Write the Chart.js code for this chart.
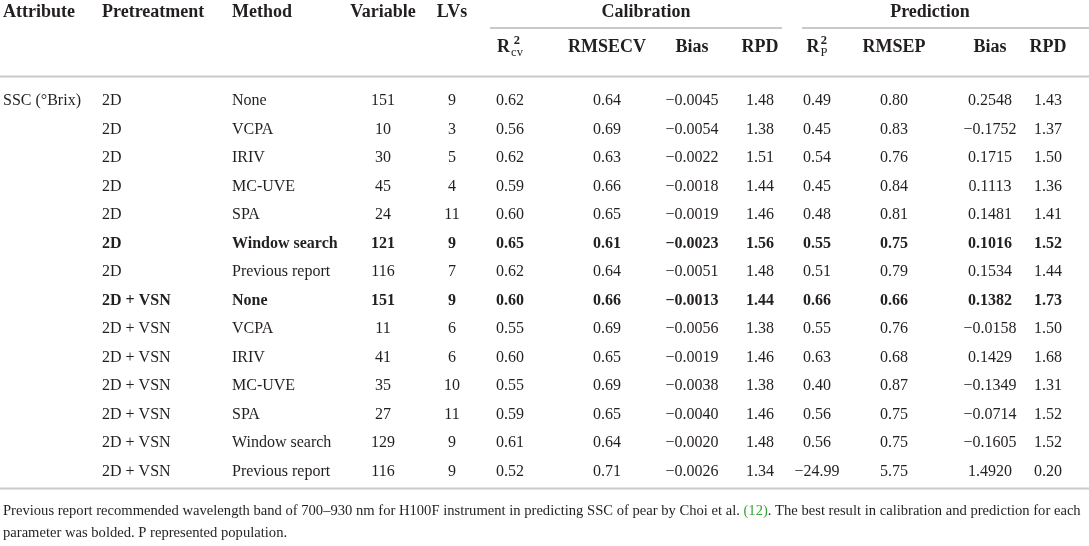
<!DOCTYPE html>
<html>
<head>
<meta charset="utf-8">
<script src="https://cdn.jsdelivr.net/npm/chart.js@4.4.1/dist/chart.umd.min.js"></script>
<style>
  html, body { margin: 0; padding: 0; background: #fff; }
  canvas { display: block; }
</style>
</head>
<body>
<canvas id="ResultTableChart" width="1089" height="546"></canvas>
<script>
// table values, one array per column
const attributes = ['SSC (°Brix)', '', '', '', '', '', '', '', '', '', '', '', '', ''];
const pretreatments = ['2D', '2D', '2D', '2D', '2D', '2D', '2D',
  '2D + VSN', '2D + VSN', '2D + VSN', '2D + VSN', '2D + VSN', '2D + VSN', '2D + VSN'];
const methods = ['None', 'VCPA', 'IRIV', 'MC-UVE', 'SPA', 'Window search', 'Previous report',
  'None', 'VCPA', 'IRIV', 'MC-UVE', 'SPA', 'Window search', 'Previous report'];
const variables = [151, 10, 30, 45, 24, 121, 116, 151, 11, 41, 35, 27, 129, 116];
const lvs = [9, 3, 5, 4, 11, 9, 7, 9, 6, 6, 10, 11, 9, 9];
const r2cv = [0.62, 0.56, 0.62, 0.59, 0.60, 0.65, 0.62, 0.60, 0.55, 0.60, 0.55, 0.59, 0.61, 0.52];
const rmsecv = [0.64, 0.69, 0.63, 0.66, 0.65, 0.61, 0.64, 0.66, 0.69, 0.65, 0.69, 0.65, 0.64, 0.71];
const biasCal = [-0.0045, -0.0054, -0.0022, -0.0018, -0.0019, -0.0023, -0.0051,
  -0.0013, -0.0056, -0.0019, -0.0038, -0.0040, -0.0020, -0.0026];
const rpdCal = [1.48, 1.38, 1.51, 1.44, 1.46, 1.56, 1.48, 1.44, 1.38, 1.46, 1.38, 1.46, 1.48, 1.34];
const r2p = [0.49, 0.45, 0.54, 0.45, 0.48, 0.55, 0.51, 0.66, 0.55, 0.63, 0.40, 0.56, 0.56, -24.99];
const rmsep = [0.80, 0.83, 0.76, 0.84, 0.81, 0.75, 0.79, 0.66, 0.76, 0.68, 0.87, 0.75, 0.75, 5.75];
const biasPred = [0.2548, -0.1752, 0.1715, 0.1113, 0.1481, 0.1016, 0.1534,
  0.1382, -0.0158, 0.1429, -0.1349, -0.0714, -0.1605, 1.4920];
const rpdPred = [1.43, 1.37, 1.50, 1.36, 1.41, 1.52, 1.44, 1.73, 1.50, 1.68, 1.31, 1.52, 1.52, 0.20];
const boldRows = [5, 7];

const headerTop = ['Attribute', 'Pretreatment', 'Method', 'Variable', 'LVs'];
const groupLabels = ['Calibration', 'Prediction'];
const headerSub = ['R2cv', 'RMSECV', 'Bias', 'RPD', 'R2P', 'RMSEP', 'Bias', 'RPD'];
const footnote = [
  ['Previous report recommended wavelength band of 700–930 nm for H100F instrument in predicting SSC of pear by Choi et al. ', '(12)', '. The best result in calibration and prediction for each'],
  ['parameter was bolded. P represented population.']
];

// layout (x in page units, y in row units)
const colX = [3, 102, 232, 383, 452, 510, 607, 692, 760, 817, 894, 990, 1048];
const colAlign = ['left', 'left', 'left', 'center', 'center', 'center', 'center', 'center',
  'center', 'center', 'center', 'center', 'center'];
const groupX = [[490, 782, 646], [802, 1089, 930]];
const rowTop = 101;
const rowStep = 28.5;
const yTopHeader = -3.1;
const yGroupRule = -2.56;
const ySubHeader = -1.9;
const yHeadRule = -0.86;
const yBottomRule = 13.6;
const yFoot = [14.4, 15.17];

const FONT = '"Liberation Serif", "Times New Roman", serif';
const INK = '#231f20';
const RULE = '#c9c9c9';
const LINK = '#3aa23a';

const fmt = function (v, d) {
  const s = Math.abs(v).toFixed(d);
  return v < 0 ? '\u2212' + s : s;
};

const cells = [];
for (let r = 0; r < methods.length; r++) {
  const texts = [attributes[r], pretreatments[r], methods[r], String(variables[r]), String(lvs[r]),
    fmt(r2cv[r], 2), fmt(rmsecv[r], 2), fmt(biasCal[r], 4), fmt(rpdCal[r], 2),
    fmt(r2p[r], 2), fmt(rmsep[r], 2), fmt(biasPred[r], 4), fmt(rpdPred[r], 2)];
  texts.forEach((t, c) => {
    if (t === '') return;
    const bold = boldRows.includes(r) && c > 0;
    cells.push({ x: colX[c], y: r, text: t, align: colAlign[c], bold: bold });
  });
}

const drawRichR = function (ctx, cx, cy, sub) {
  // R with superscript 2 and a subscript, centred on cx
  ctx.font = 'bold 18px ' + FONT;
  const wR = ctx.measureText('R').width;
  ctx.font = 'bold 12.5px ' + FONT;
  const w2 = ctx.measureText('2').width;
  ctx.font = '12.5px ' + FONT;
  const wS = ctx.measureText(sub).width;
  const total = wR + 1 + Math.max(w2, wS);
  let x = cx - total / 2;
  ctx.textAlign = 'left';
  ctx.font = 'bold 18px ' + FONT;
  ctx.fillText('R', x, cy);
  x += wR + 1;
  ctx.font = 'bold 12.5px ' + FONT;
  ctx.fillText('2', x + (Math.max(w2, wS) - w2) / 2, cy - 6);
  ctx.font = '12.5px ' + FONT;
  ctx.fillText(sub, x, cy + 6);
};

const tablePlugin = {
  id: 'tablePlugin',
  afterDatasetsDraw(chart) {
    const ctx = chart.ctx;
    const xs = chart.scales.x;
    const ys = chart.scales.y;
    const px = v => xs.getPixelForValue(v);
    const py = v => ys.getPixelForValue(v);
    ctx.save();
    ctx.fillStyle = INK;
    ctx.textBaseline = 'middle';

    // rules
    ctx.strokeStyle = RULE;
    ctx.lineWidth = 2;
    const hline = (x0, x1, y) => {
      ctx.beginPath();
      ctx.moveTo(px(x0), py(y));
      ctx.lineTo(px(x1), py(y));
      ctx.stroke();
    };
    groupX.forEach(g => hline(g[0], g[1], yGroupRule));
    hline(0, 1089, yHeadRule);
    hline(0, 1089, yBottomRule);

    // header
    ctx.font = 'bold 18px ' + FONT;
    headerTop.forEach((t, i) => {
      ctx.textAlign = colAlign[i];
      ctx.fillText(t, px(colX[i]), py(yTopHeader));
    });
    ctx.textAlign = 'center';
    groupLabels.forEach((t, i) => ctx.fillText(t, px(groupX[i][2]), py(yTopHeader)));
    headerSub.forEach((t, i) => {
      const c = i + 5;
      if (t === 'R2cv') {
        drawRichR(ctx, px(colX[c]), py(ySubHeader), 'cv');
      } else if (t === 'R2P') {
        drawRichR(ctx, px(colX[c]), py(ySubHeader), 'P');
      } else {
        ctx.font = 'bold 18px ' + FONT;
        ctx.textAlign = 'center';
        ctx.fillText(t, px(colX[c]), py(ySubHeader));
      }
    });

    // cells, placed at the dataset's own point positions
    const meta = chart.getDatasetMeta(0);
    meta.data.forEach((pt, i) => {
      const cell = chart.data.datasets[0].data[i];
      ctx.font = (cell.bold ? 'bold ' : '') + '16px ' + FONT;
      ctx.textAlign = cell.align;
      ctx.fillText(cell.text, pt.x, pt.y);
    });

    // footnote
    ctx.font = '14.6px ' + FONT;
    ctx.textAlign = 'left';
    footnote.forEach((parts, li) => {
      let x = px(3);
      parts.forEach((p, pi) => {
        ctx.fillStyle = (li === 0 && pi === 1) ? LINK : INK;
        ctx.fillText(p, x, py(yFoot[li]));
        x += ctx.measureText(p).width;
      });
    });
    ctx.restore();
  }
};

const rowMin = -rowTop / rowStep;
const rowMax = rowMin + 546 / rowStep;

const config = {
  type: 'scatter',
  data: {
    datasets: [{
      label: 'cells',
      data: cells,
      pointRadius: 0,
      pointHoverRadius: 0
    }]
  },
  options: {
    responsive: false,
    animation: false,
    events: [],
    layout: { padding: 0 },
    plugins: { legend: { display: false }, tooltip: { enabled: false } },
    scales: {
      x: { type: 'linear', min: 0, max: 1089, display: false },
      y: { type: 'linear', min: rowMin, max: rowMax, reverse: true, display: false }
    }
  },
  plugins: [tablePlugin]
};

const ResultTableChart = new Chart(
  document.getElementById('ResultTableChart'),
  config
);
</script>
</body>
</html>
